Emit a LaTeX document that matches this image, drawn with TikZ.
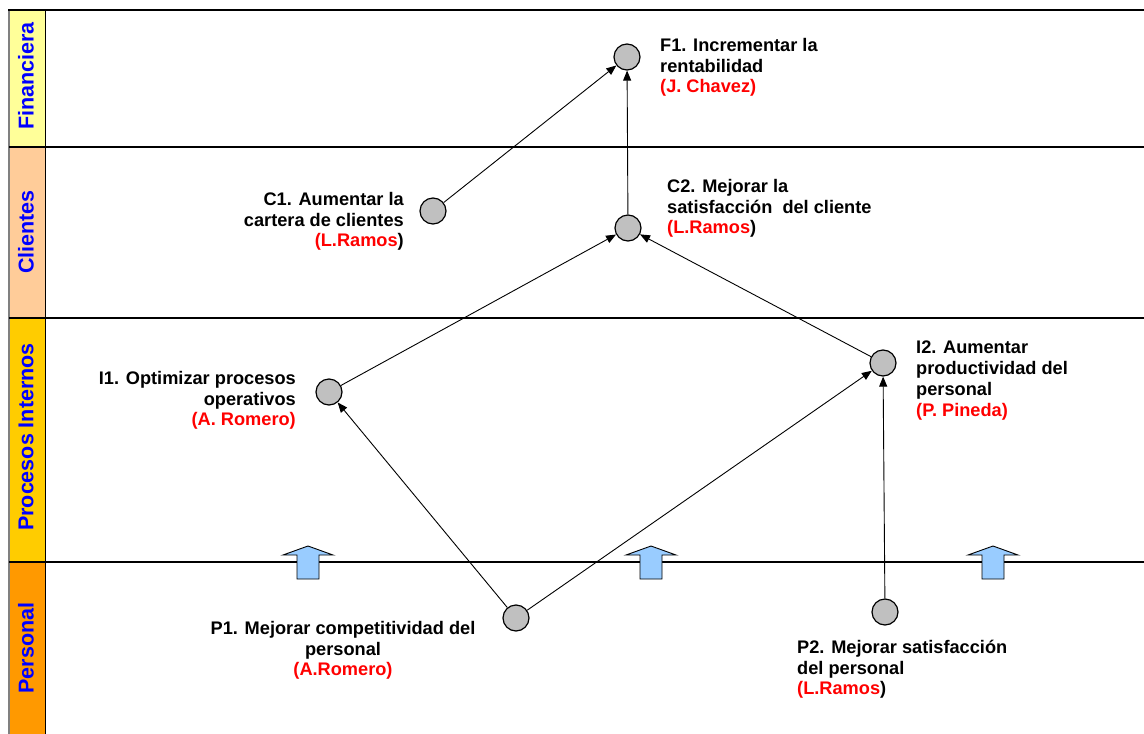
\documentclass[tikz,border=0pt]{standalone}
\usepackage{fontspec}
\setmainfont{Liberation Sans}
\usetikzlibrary{arrows.meta}
\definecolor{finyellow}{HTML}{FFFF99}
\definecolor{clipeach}{HTML}{FFCC99}
\definecolor{procgold}{HTML}{FFCC00}
\definecolor{persorange}{HTML}{FF9900}
\definecolor{arrowblue}{HTML}{99CCFF}
\definecolor{nodegray}{HTML}{C0C0C0}
\definecolor{labelblue}{HTML}{0000FF}
\definecolor{namered}{HTML}{FF0000}
\newcommand{\rn}[1]{\textcolor{namered}{#1}}
\begin{document}
\begin{tikzpicture}[x=1pt,y=-1pt,
  goal/.style={circle,draw=black,line width=1.2pt,fill=nodegray,minimum size=26pt,inner sep=0pt},
  lbl/.style={font=\fontsize{18.2}{20.7}\selectfont\bfseries,inner sep=0pt},
  link/.style={line width=0.9pt,-{Triangle[length=10pt,width=8pt]}},
  bandtxt/.style={rotate=90,font=\fontsize{21.5}{24}\selectfont\bfseries,text=labelblue,inner sep=0pt},
  blockarrow/.style={fill=arrowblue,draw=black,line width=0.9pt},
  sepline/.style={draw=black,line width=1.5pt}]
\useasboundingbox (0,0) rectangle (1144,734);
% left column bands
\fill[finyellow] (9,10) rectangle (45,147);
\fill[clipeach] (9,147) rectangle (45,318);
\fill[procgold] (9,318) rectangle (45,562);
\fill[persorange] (9,562) rectangle (45,734);
\draw[gray,line width=1.5pt] (9,10) -- (9,734);
\draw[black,line width=1pt] (45,10) -- (45,734);
% horizontal lines
\draw[sepline] (8,10) -- (1144,10);
\draw[sepline] (9,147) -- (1144,147);
\draw[sepline] (9,318) -- (1144,318);
\draw[sepline] (9,562) -- (1144,562);
% band labels
\node[bandtxt] (fin) at (26,76) {Financiera};
\node[bandtxt] (cli) at (26,232) {Clientes};
\node[bandtxt] (pro) at (26,437) {Procesos Internos};
\node[bandtxt] (per) at (26,648) {Personal};
% block arrows
\foreach \ax in {308,651,993}{
  \draw[blockarrow] ({\ax-11},579) -- ({\ax-11},555) -- ({\ax-25},555) -- (\ax,546)
     -- ({\ax+25},555) -- ({\ax+11},555) -- ({\ax+11},579) -- cycle;
}
% goals
\node[goal] (F1) at (627,57) {};
\node[goal] (C1) at (433,211) {};
\node[goal] (C2) at (628,228) {};
\node[goal] (I1) at (329,392) {};
\node[goal] (I2) at (883,363) {};
\node[goal] (P1) at (516,618) {};
\node[goal] (P2) at (885,612) {};
% links
\draw[link] (C1) -- (F1);
\draw[link] (C2) -- (F1);
\draw[link] (I1) -- (C2);
\draw[link] (I2) -- (C2);
\draw[link] (P1) -- (I1);
\draw[link] (P1) -- (I2);
\draw[link] (P2) -- (I2);
% labels
\node[lbl,anchor=north west,align=left] (tF1) at (660,38)
  {F1. Incrementar la\\rentabilidad\\\rn{(J. Chavez)}};
\node[lbl,anchor=north east,align=right] (tC1) at (404,192)
  {C1. Aumentar la\\cartera de clientes\\\rn{(L.Ramos}{)}};
\node[lbl,anchor=north west,align=left] (tC2) at (667,179)
  {C2. Mejorar la\\satisfacción\ \ del cliente\\\rn{(L.Ramos}{)}};
\node[lbl,anchor=north east,align=right] (tI1) at (296,371)
  {I1. Optimizar procesos\\operativos\\\rn{(A. Romero)}};
\node[lbl,anchor=north west,align=left] (tI2) at (916,341)
  {I2. Aumentar\\productividad del\\personal\\\rn{(P. Pineda)}};
\node[lbl,anchor=north,align=center] (tP1) at (343,621)
  {P1. Mejorar competitividad del\\personal\\\rn{(A.Romero)}};
\node[lbl,anchor=north west,align=left] (tP2) at (797,640)
  {P2. Mejorar satisfacción\\del personal\\\rn{(L.Ramos}{)}};
\end{tikzpicture}
\end{document}
